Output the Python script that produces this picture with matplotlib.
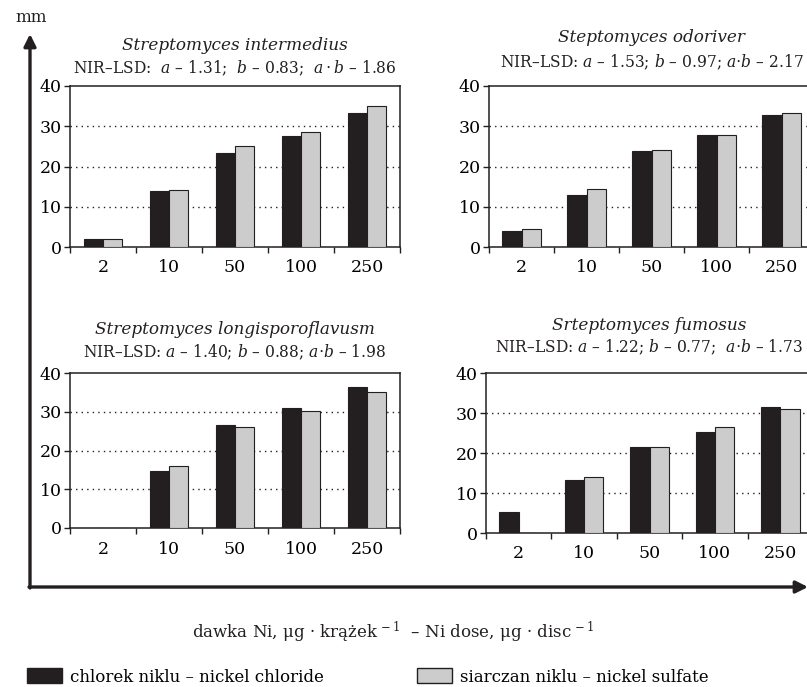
import matplotlib
matplotlib.use("Agg")
import matplotlib.pyplot as plt
from matplotlib.patches import Patch
import numpy as np

plt.rcParams["font.family"] = ["DejaVu Serif"]
plt.rcParams["mathtext.fontset"] = "dejavuserif"

doses = ["2", "10", "50", "100", "250"]

# zone of inhibition, mm: chloride / sulfate per strain
intermedius_cl = [1.9, 14.0, 23.3, 27.5, 33.3]
intermedius_so = [2.0, 14.2, 25.1, 28.5, 35.1]
odoriver_cl = [3.9, 13.0, 23.9, 27.9, 32.7]
odoriver_so = [4.5, 14.5, 24.2, 27.9, 33.2]
longispor_cl = [0.0, 14.6, 26.7, 31.0, 36.4]
longispor_so = [0.0, 16.1, 26.1, 30.2, 35.0]
fumosus_cl = [5.3, 13.2, 21.5, 25.3, 31.5]
fumosus_so = [0.0, 14.0, 21.6, 26.4, 31.0]

titles = ["Streptomyces intermedius", "Steptomyces odoriver",
          "Streptomyces longisporoflavusm", "Srteptomyces fumosus"]
lsd = [r"NIR–LSD:  $a$ – 1.31;  $b$ – 0.83;  $a\cdot b$ – 1.86",
       r"NIR–LSD: $a$ – 1.53; $b$ – 0.97; $a{\cdot}b$ – 2.17",
       r"NIR–LSD: $a$ – 1.40; $b$ – 0.88; $a{\cdot}b$ – 1.98",
       r"NIR–LSD: $a$ – 1.22; $b$ – 0.77;  $a{\cdot}b$ – 1.73"]

DARK = "#231f20"
LIGHT = "#cccccc"
W, H = 807, 687

fig = plt.figure(figsize=(W / 100, H / 100), dpi=100)


def px_axes(left, right, top, bottom):
    return fig.add_axes([left / W, 1 - bottom / H, (right - left) / W,
                         (bottom - top) / H])


# pixel boxes of the four panels: left, right, top, bottom
boxes = [(70, 400, 86, 247), (489, 814, 86, 247),
         (70, 400, 373, 528), (486, 813, 373, 533)]
series = [(intermedius_cl, intermedius_so), (odoriver_cl, odoriver_so),
          (longispor_cl, longispor_so), (fumosus_cl, fumosus_so)]
title_y = [(45, 68), (38, 62), (330, 352), (325, 347)]

x = np.arange(len(doses))
bw = 0.295
for box, (cl, so), ttl, sub, (ty, sy) in zip(boxes, series, titles, lsd, title_y):
    ax = px_axes(*box)
    ax.bar(x - bw / 2, cl, bw, color=DARK, edgecolor=DARK, lw=0.8, zorder=3)
    ax.bar(x + bw / 2, so, bw, color=LIGHT, edgecolor=DARK, lw=0.8, zorder=3)
    ax.set_xlim(-0.5, 4.5)
    ax.set_ylim(0, 40)
    ax.set_yticks([0, 10, 20, 30, 40])
    ax.set_xticks(x)
    ax.set_xticklabels(doses)
    ax.set_xticks(np.arange(-0.5, 5, 1), minor=True)
    ax.tick_params(axis="x", which="major", length=0, pad=9, labelsize=12.5)
    ax.tick_params(axis="x", which="minor", length=4, width=1, color=DARK)
    ax.tick_params(axis="y", length=4, width=1, color=DARK, pad=2,
                   labelsize=12.5)
    for s in ax.spines.values():
        s.set_linewidth(1.1)
        s.set_color(DARK)
    for g in (10, 20, 30):
        ax.axhline(g, color=DARK, lw=1, ls=(0, (1, 3)), zorder=1)
    cx = (box[0] + box[1]) / 2
    fig.text(cx / W, 1 - ty / H, ttl, style="italic", fontsize=12.2,
             ha="center", va="center", color=DARK)
    fig.text(cx / W, 1 - sy / H, sub, fontsize=11.2, ha="center", va="center",
             color=DARK)

# outer axis frame with arrows
frame = fig.add_axes([0, 0, 1, 1], zorder=-1)
frame.set_xlim(0, W)
frame.set_ylim(H, 0)
frame.axis("off")
frame.annotate("", xy=(30, 34), xytext=(30, 588), annotation_clip=False,
               arrowprops=dict(arrowstyle="-|>", lw=2.4, color=DARK,
                               mutation_scale=18, shrinkA=0, shrinkB=0))
frame.annotate("", xy=(808, 587), xytext=(29, 587), annotation_clip=False,
               arrowprops=dict(arrowstyle="-|>", lw=2.4, color=DARK,
                               mutation_scale=18, shrinkA=0, shrinkB=0))

fig.text(31 / W, 1 - 17 / H, "mm", fontsize=12, ha="center", va="center",
         color=DARK)
fig.text(393 / W, 1 - 632 / H,
         r"dawka Ni, μg · krążek$^{\,-1}$  – Ni dose, μg · disc$^{\,-1}$",
         fontsize=12, ha="center", va="center", color=DARK)

leg_kw = dict(frameon=False, fontsize=12, handlelength=2.1, handleheight=1.0,
              handletextpad=0.5, borderpad=0, borderaxespad=0, loc="center left")
fig.legend([Patch(facecolor=DARK, edgecolor=DARK)],
           ["chlorek niklu – nickel chloride"],
           bbox_to_anchor=(27 / W, 1 - 677 / H), **leg_kw)
fig.legend([Patch(facecolor=LIGHT, edgecolor=DARK)],
           ["siarczan niklu – nickel sulfate"],
           bbox_to_anchor=(417 / W, 1 - 677 / H), **leg_kw)

fig.savefig("out.png", dpi=100)
